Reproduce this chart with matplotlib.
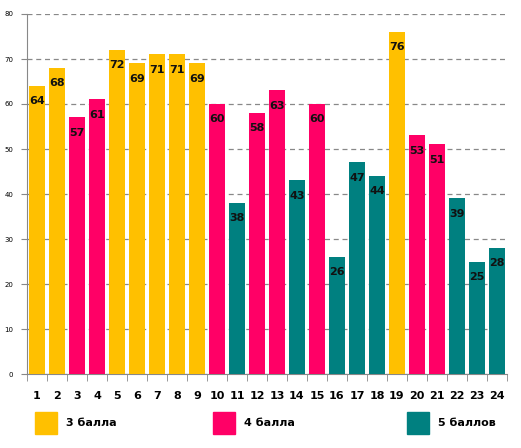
import matplotlib
matplotlib.use("Agg")
import matplotlib.pyplot as plt
from matplotlib.patches import Patch

categories = [str(i) for i in range(1, 25)]
values = [64, 68, 57, 61, 72, 69, 71, 71, 69, 60, 38, 58, 63, 43, 60, 26, 47, 44, 76, 53, 51, 39, 25, 28]
grades = [3, 3, 4, 4, 3, 3, 3, 3, 3, 4, 5, 4, 4, 5, 4, 5, 5, 5, 3, 4, 4, 5, 5, 5]
legend_labels = {3: "3 балла", 4: "4 балла", 5: "5 баллов"}
colors = {3: "#FFC000", 4: "#FF0066", 5: "#008080"}

fig = plt.figure(figsize=(5.21, 4.48), dpi=100)
ax = fig.add_axes([27/521, 1-374/448, 480/521, 360/448])

xs = list(range(1, 25))
bars = ax.bar(xs, values, width=0.82, color=[colors[g] for g in grades], zorder=3)
for x, v in zip(xs, values):
    ax.annotate(str(v), (x, v), xytext=(0, -7.5), textcoords="offset points",
                ha="center", va="top", fontsize=8, fontweight="bold", color="#111111", zorder=4)

ax.set_xlim(0.5, 24.5)
ax.set_ylim(0, 80)
ax.set_yticks(range(0, 81, 10))
ax.tick_params(axis="y", labelsize=5, length=4, color="#888888", pad=6)
ax.set_xticks(xs)
ax.set_xticklabels(categories, fontsize=8, fontweight="bold")
ax.tick_params(axis="x", length=0, pad=12)
ax.set_xticks([x + 0.5 for x in range(0, 25)], minor=True)
ax.tick_params(axis="x", which="minor", length=5, color="#888888")
ax.yaxis.grid(True, linestyle=(0, (4, 3)), color="#888888", linewidth=0.9, zorder=0)
for s in ["top", "right"]:
    ax.spines[s].set_visible(False)
ax.spines["left"].set_color("#888888")
ax.spines["bottom"].set_color("#888888")

legend_x = {3: 33/521, 4: 211/521, 5: 405/521}
for g in (3, 4, 5):
    leg = fig.legend(handles=[Patch(color=colors[g], label=legend_labels[g])],
                     loc="center left", bbox_to_anchor=(legend_x[g], 1-423/448),
                     frameon=False, handlelength=2.0, handleheight=2.6,
                     handletextpad=0.75, borderaxespad=0, borderpad=0.2,
                     prop={"weight": "bold", "size": 8})

fig.savefig("out.png", dpi=100)
